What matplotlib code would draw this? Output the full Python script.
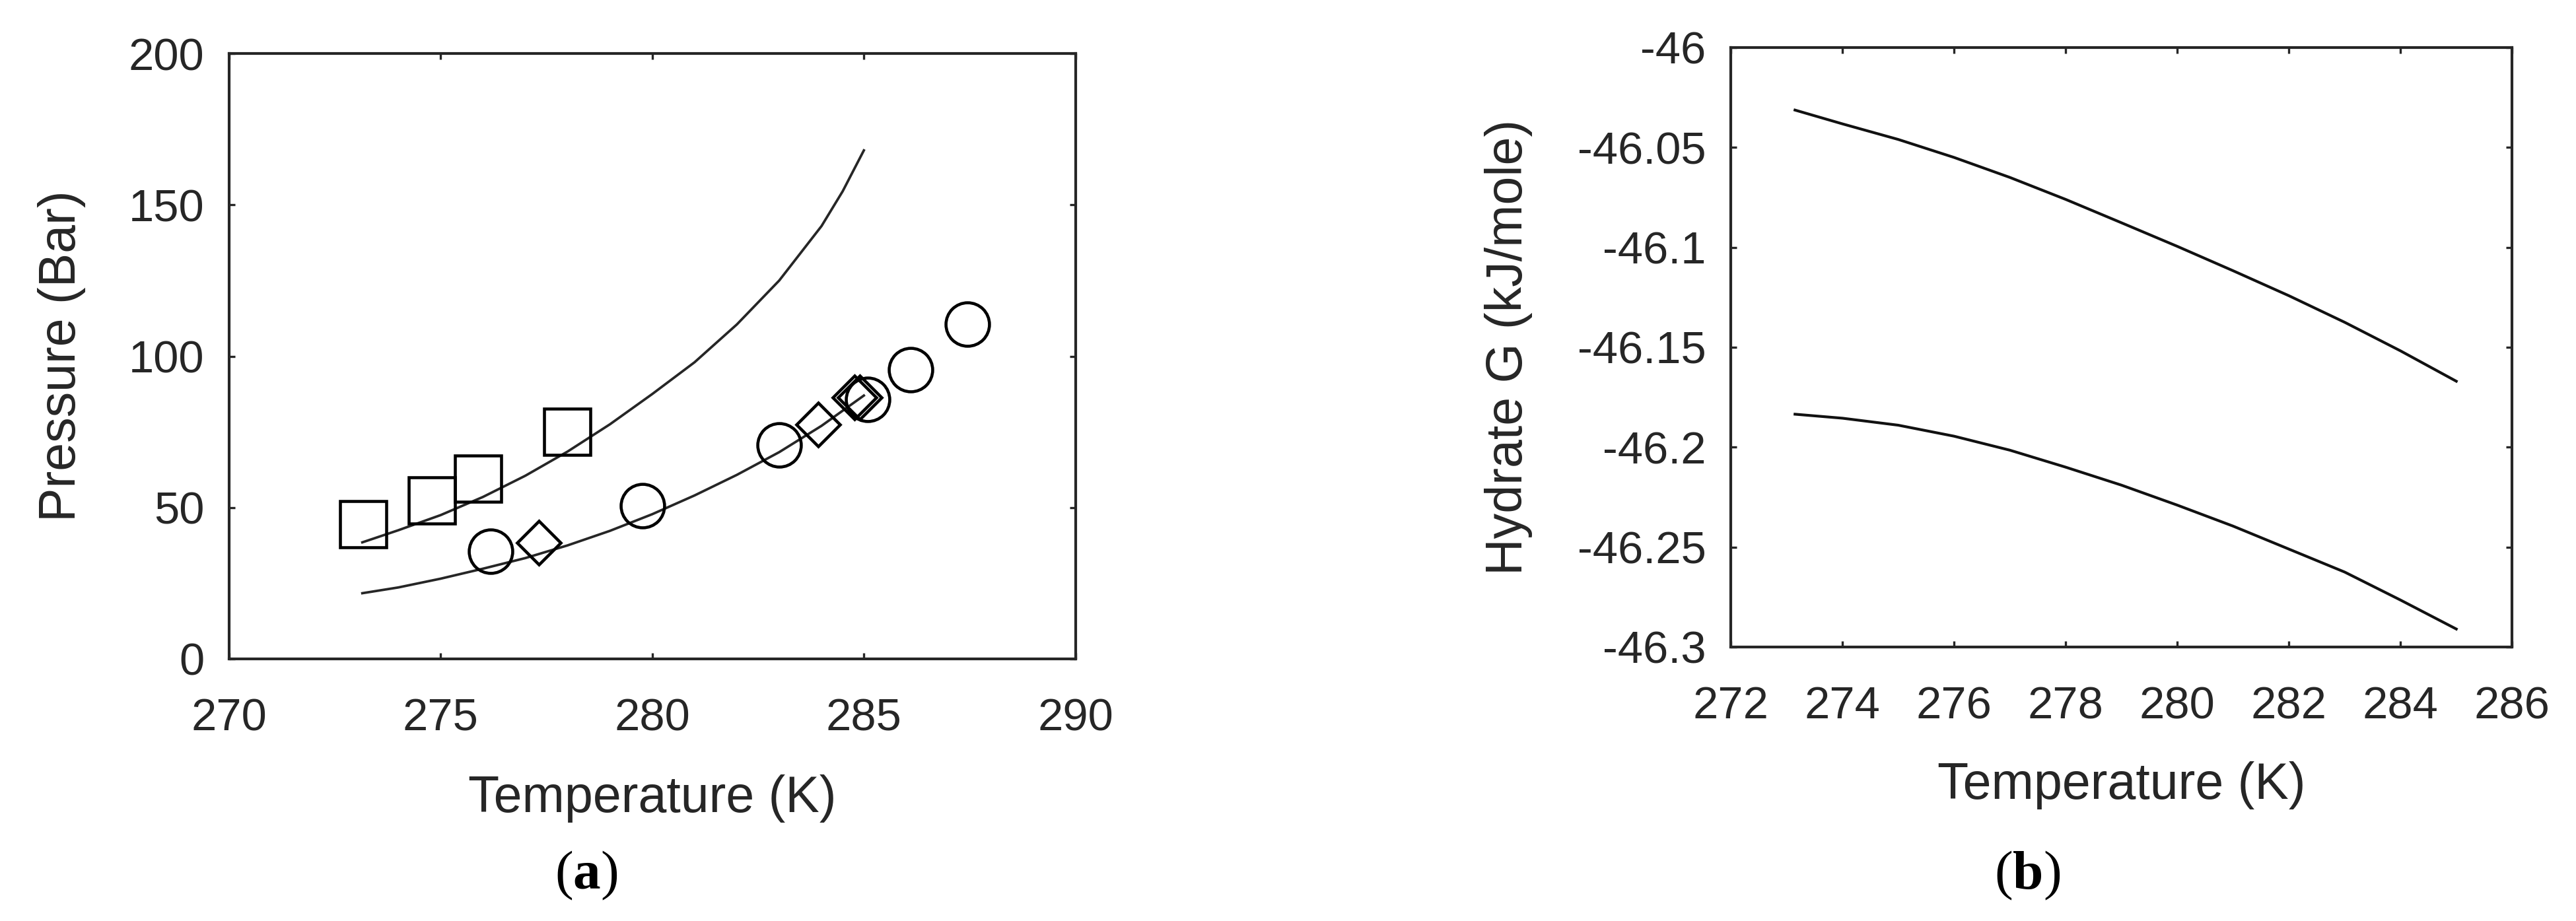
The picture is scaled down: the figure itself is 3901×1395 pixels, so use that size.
import numpy as np
import matplotlib
matplotlib.use('Agg')
import matplotlib.pyplot as plt
from matplotlib.ticker import FuncFormatter

# Datos
# (a) curvas de equilibrio de hidrato
t_curve = [273.15, 274, 275, 276, 277, 278, 279, 280, 281, 282, 283, 284, 284.5, 285]
p_upper = [38.5, 42.5, 47.5, 53.5, 60.5, 68.5, 77.5, 87.5, 98.0, 110.5, 125.0, 143.0, 154.5, 168.0]
t_lower = [273.15, 274, 275, 276, 277, 278, 279, 280, 281, 282, 283, 284, 285]
p_lower = [21.7, 23.6, 26.5, 29.8, 33.3, 37.5, 42.3, 47.8, 54.0, 60.8, 68.3, 77.0, 87.0]

# puntos experimentales
t_square = [273.17, 274.79, 275.88, 277.99]
p_square = [44.5, 52.4, 59.5, 75.1]
t_circle = [276.18, 279.77, 283.0, 285.09, 286.11, 287.44]
p_circle = [35.6, 50.6, 70.7, 85.7, 95.5, 110.6]
t_diamond = [277.32, 283.92, 284.78, 284.90]
p_diamond = [38.4, 77.4, 86.3, 86.3]

# (b) energia libre del hidrato
t_g = [273.15, 274, 275, 276, 277, 278, 279, 280, 281, 282, 283, 284, 285]
g_upper = [-46.0313, -46.0382, -46.0460, -46.0550, -46.0650, -46.0760, -46.0877,
           -46.0995, -46.1117, -46.1242, -46.1375, -46.1518, -46.1670]
g_lower = [-46.1835, -46.1855, -46.1890, -46.1945, -46.2015, -46.2100, -46.2190,
           -46.2290, -46.2395, -46.2510, -46.2625, -46.2765, -46.2910]

x_ticks_a = [270, 275, 280, 285, 290]
y_ticks_a = [0, 50, 100, 150, 200]
x_ticks_b = [272, 274, 276, 278, 280, 282, 284, 286]
y_ticks_b = [-46.3, -46.25, -46.2, -46.15, -46.1, -46.05, -46.0]

ink = '#262626'
plt.rcParams['font.family'] = ['Liberation Sans', 'DejaVu Sans']
plt.rcParams['axes.unicode_minus'] = False
plt.rcParams['mathtext.fontset'] = 'custom'
plt.rcParams['mathtext.rm'] = 'Liberation Serif'
plt.rcParams['mathtext.bf'] = 'Liberation Serif:bold'

fig = plt.figure(figsize=(3901 / 300, 1395 / 300), dpi=300)
ax1 = fig.add_axes([0.0889, 0.2846, 0.3286, 0.6573])
ax2 = fig.add_axes([0.6719, 0.2975, 0.3033, 0.6509])


def style_axes(ax):
    for s in ax.spines.values():
        s.set_linewidth(1.0)
        s.set_color(ink)
    ax.tick_params(direction='in', top=True, right=True, length=2.2, width=0.8,
                   color=ink, labelcolor=ink, labelsize=16.5)
    ax.tick_params(axis='x', pad=14)
    ax.tick_params(axis='y', pad=9)


# Grafica (a)
ax1.plot(t_curve, p_upper, color=ink, lw=0.9)
ax1.plot(t_lower, p_lower, color=ink, lw=0.9)
mk = dict(linestyle='none', markerfacecolor='none', markeredgecolor='black', markeredgewidth=1.1)
ax1.plot(t_square, p_square, marker='s', markersize=16.6, **mk)
ax1.plot(t_circle, p_circle, marker='o', markersize=15.8, **mk)
ax1.plot(t_diamond, p_diamond, marker='D', markersize=11.3, **mk)
ax1.set_xlim(270, 290)
ax1.set_ylim(0, 200)
ax1.set_xticks(x_ticks_a)
ax1.set_yticks(y_ticks_a)
style_axes(ax1)
ax1.set_xlabel('Temperature (K)', fontsize=18.5, color=ink)
ax1.set_ylabel('Pressure (Bar)', fontsize=18.5, color=ink)
ax1.xaxis.set_label_coords(0.5, -0.191)
ax1.yaxis.set_label_coords(-0.169, 0.5)

# Grafica (b)
ax2.plot(t_g, g_upper, color='#111111', lw=1.0)
ax2.plot(t_g, g_lower, color='#111111', lw=1.0)
ax2.set_xlim(272, 286)
ax2.set_ylim(-46.3, -46.0)
ax2.set_xticks(x_ticks_b)
ax2.set_yticks(y_ticks_b)
ax2.yaxis.set_major_formatter(FuncFormatter(lambda v, pos: '%g' % round(v, 3)))
style_axes(ax2)
ax2.set_xlabel('Temperature (K)', fontsize=18.5, color=ink)
ax2.set_ylabel('Hydrate G (kJ/mole)', fontsize=18.5, color=ink)
ax2.xaxis.set_label_coords(0.5, -0.1905)
ax2.yaxis.set_label_coords(-0.254, 0.5)

# Etiquetas de panel
fig.text(0.2276, 0.0495, r'($\mathbf{a}$)', ha='center', va='center', fontsize=20,
         family='Liberation Serif', color='black')
fig.text(0.7870, 0.0495, r'($\mathbf{b}$)', ha='center', va='center', fontsize=20,
         family='Liberation Serif', color='black')

fig.savefig('out.png', dpi=300, facecolor='white')
